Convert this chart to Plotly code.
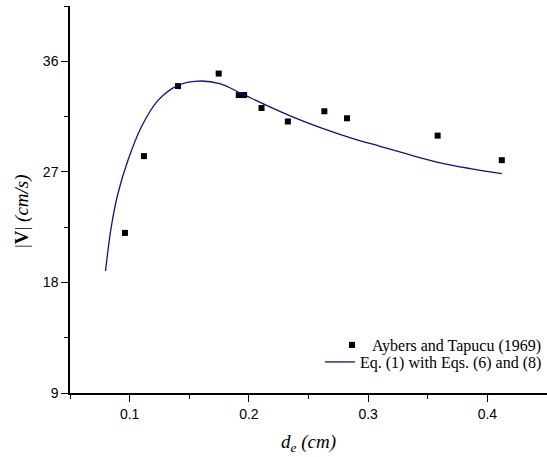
import plotly.graph_objects as go

# Experimental data (Aybers and Tapucu, 1969)
exp_d = [0.0961, 0.1120, 0.1406, 0.1747, 0.1915, 0.1960, 0.2106, 0.2327, 0.2633, 0.2823, 0.3583, 0.4121]
exp_v = [22.03, 28.28, 33.98, 35.00, 33.25, 33.25, 32.20, 31.10, 31.93, 31.36, 29.95, 27.95]

# Model curve: Eq. (1) with Eqs. (6) and (8)
model_d = [0.0798, 0.0846, 0.0902, 0.0986, 0.1098, 0.1238, 0.1406, 0.1573, 0.1756, 0.1938,
           0.2148, 0.2371, 0.2623, 0.2847, 0.3099, 0.3295, 0.3575, 0.3855, 0.4121]
model_v = [18.94, 22.52, 25.24, 27.94, 30.65, 32.82, 34.04, 34.39, 34.18, 33.37,
           32.41, 31.46, 30.52, 29.79, 29.08, 28.54, 27.80, 27.27, 26.86]

x_ticks = [0.1, 0.2, 0.3, 0.4]
y_ticks = [9, 18, 27, 36]

SERIF = "Times New Roman, Liberation Serif, serif"
SANS = "Arial, Liberation Sans, sans-serif"

fig = go.Figure()
fig.add_trace(go.Scatter(x=exp_d, y=exp_v, mode="markers",
                         name="Aybers and Tapucu (1969)", legend="legend",
                         marker=dict(symbol="square", size=6, color="black")))
fig.add_trace(go.Scatter(x=model_d, y=model_v, mode="lines",
                         name="Eq. (1) with Eqs. (6) and (8)", legend="legend2",
                         line=dict(color="#10108c", width=1.3, shape="spline")))

axis_common = dict(showgrid=False, zeroline=False, showline=True, linecolor="black",
                   linewidth=1.5, ticks="outside", ticklen=7, tickwidth=1.3, tickcolor="black",
                   tickfont=dict(family=SANS, size=14, color="black"))

fig.update_xaxes(range=[0.05, 0.45], tickvals=x_ticks, ticktext=[str(v) for v in x_ticks],
                 minor=dict(ticks="outside", ticklen=4, tickwidth=1.3, tickcolor="black", dtick=0.05, tick0=0.05),
                 **axis_common)
fig.update_yaxes(range=[9, 40.5], tickvals=y_ticks,
                 minor=dict(ticks="outside", ticklen=4, tickwidth=1.3, tickcolor="black", dtick=4.5, tick0=9),
                 **axis_common)

fig.add_annotation(text="|<b>V</b>| <i>(cm/s)</i>", xref="paper", yref="paper",
                   x=-48/477, y=(393-211)/387, textangle=-90, showarrow=False,
                   font=dict(family=SERIF, size=19, color="black"),
                   xanchor="center", yanchor="middle")
fig.add_annotation(text="<i>d</i><sub><i>e</i></sub><i> (cm)</i>", xref="paper", yref="paper",
                   x=(308.5-70)/477, y=-(443-393)/387, showarrow=False,
                   font=dict(family=SERIF, size=19, color="black"),
                   xanchor="center", yanchor="middle")

legend_common = dict(x=1, xanchor="right", yanchor="middle",
                     bgcolor="rgba(0,0,0,0)",
                     font=dict(family=SERIF, size=16, color="black"),
                     tracegroupgap=0, itemwidth=30)

fig.update_layout(width=547, height=457,
                  margin=dict(l=70, r=0, t=6, b=64),
                  plot_bgcolor="white", paper_bgcolor="white",
                  font=dict(family=SERIF, size=16, color="black"),
                  showlegend=True,
                  legend=dict(y=(393-345)/387, **legend_common),
                  legend2=dict(y=(393-362)/387, **legend_common))

fig.write_html("out.html")
